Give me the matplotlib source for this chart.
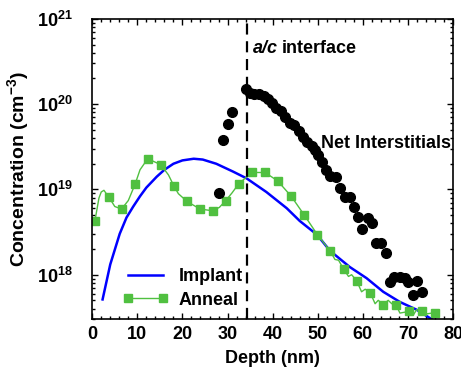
import matplotlib
matplotlib.use('Agg')
import matplotlib.pyplot as plt
from matplotlib.ticker import MultipleLocator, LogLocator, NullFormatter

plt.rcParams['font.family'] = 'Liberation Sans'
plt.rcParams['font.weight'] = 'bold'
plt.rcParams['mathtext.fontset'] = 'custom'
plt.rcParams['mathtext.rm'] = 'Liberation Sans:bold'
plt.rcParams['mathtext.bf'] = 'Liberation Sans:bold'
plt.rcParams['mathtext.it'] = 'Liberation Sans:bold:italic'

# Implant profile (blue line)
implant_depth = [2.3, 4.0, 6.1, 7.6, 9.1, 10.6, 12.0, 14.3, 16.0, 18.0, 20.0, 22.5, 24.5,
                 27.5, 31.2, 34.2, 38.6, 43.1, 46.0, 49.8, 52.7, 57.1, 60.8, 64.5, 68.2,
                 71.9, 74.9, 75.5]
implant_conc = [5.13e17, 1.32e18, 3.02e18, 4.68e18, 6.31e18, 8.32e18, 1.05e19, 1.41e19,
                1.70e19, 2.0e19, 2.19e19, 2.29e19, 2.24e19, 2.0e19, 1.62e19, 1.35e19,
                9.33e18, 6.03e18, 4.27e18, 2.95e18, 1.91e18, 1.23e18, 9.12e17, 6.31e17,
                4.79e17, 3.89e17, 3.09e17, 2.95e17]

# Anneal profile: squares and the finer line through them
anneal_depth = [0.6, 3.7, 6.5, 9.5, 12.3, 15.2, 18.1, 21.0, 23.9, 26.7, 29.6, 32.5, 35.4,
                38.3, 41.1, 44.1, 47.0, 49.9, 52.7, 55.7, 58.6, 61.6, 64.5, 67.3, 70.3,
                73.0, 76.0]
anneal_conc = [4.27e18, 8.13e18, 5.89e18, 1.15e19, 2.29e19, 1.95e19, 1.10e19, 7.24e18,
               5.89e18, 5.62e18, 7.41e18, 1.17e19, 1.58e19, 1.58e19, 1.26e19, 8.32e18,
               5.01e18, 2.95e18, 1.91e18, 1.17e18, 8.51e17, 6.17e17, 4.47e17, 4.47e17,
               3.72e17, 3.72e17, 3.59e17]

anneal_line_depth = [0.6, 1.5, 2.0, 2.6, 3.0, 3.7, 5.0, 6.5, 8.0, 9.5, 10.6, 12.3, 15.2,
                     16.9, 18.1, 19.1, 21.0, 23.9, 26.7, 28.2, 29.6, 31.0, 32.5, 35.4,
                     38.3, 41.1, 44.1, 47.0, 49.9, 52.7, 53.8, 54.6, 55.7, 56.8, 57.5,
                     58.6, 59.7, 60.5, 61.6, 62.7, 63.4, 64.5, 65.6, 66.4, 67.3, 68.2,
                     69.2, 70.3, 71.2, 71.9, 73.0, 74.0, 76.0]
anneal_line_conc = [4.27e18, 7.94e18, 9.33e18, 9.77e18, 9.12e18, 8.13e18, 6.31e18,
                    5.89e18, 7.41e18, 1.15e19, 1.70e19, 2.29e19, 1.95e19, 1.48e19,
                    1.10e19, 8.91e18, 7.24e18, 5.89e18, 5.62e18, 6.17e18, 7.41e18,
                    9.12e18, 1.17e19, 1.58e19, 1.58e19, 1.26e19, 8.32e18, 5.01e18,
                    2.95e18, 1.91e18, 1.51e18, 1.48e18, 1.17e18, 9.55e17, 1.0e18,
                    8.51e17, 6.31e17, 6.76e17, 6.17e17, 4.57e17, 5.01e17, 4.47e17,
                    5.01e17, 4.57e17, 4.47e17, 3.55e17, 3.63e17, 3.72e17, 3.39e17,
                    3.89e17, 3.72e17, 3.47e17, 3.59e17]

# Net interstitials (black dots)
net_depth = [28.1, 29.0, 30.1, 31.0, 34.0, 34.9, 35.9, 37.0, 38.0, 39.0, 39.9, 40.7, 41.8,
             42.8, 43.8, 44.8, 45.8, 46.8, 47.7, 48.7, 49.3, 50.1, 51.0, 51.9, 52.8, 54.0,
             55.0, 56.0, 57.1, 58.0, 58.9, 59.9, 61.2, 62.1, 62.9, 64.0, 65.1, 66.0, 66.9,
             68.2, 69.3, 70.1, 71.0, 71.9, 73.0]
net_conc = [9.12e18, 3.80e19, 5.89e19, 8.13e19, 1.51e20, 1.35e20, 1.33e20, 1.33e20,
            1.23e20, 1.14e20, 1.02e20, 8.91e19, 8.32e19, 7.08e19, 6.03e19, 5.62e19,
            4.90e19, 4.17e19, 3.63e19, 3.24e19, 2.88e19, 2.51e19, 2.09e19, 1.70e19,
            1.45e19, 1.41e19, 1.05e19, 8.13e18, 8.13e18, 6.17e18, 4.79e18, 3.47e18,
            4.57e18, 4.07e18, 2.37e18, 2.37e18, 1.82e18, 8.13e17, 9.33e17, 9.33e17,
            9.12e17, 8.13e17, 5.75e17, 8.51e17, 6.31e17]

interface_depth = 34.3

fig = plt.figure(figsize=(4.61, 3.77), dpi=100)
ax = fig.add_axes([0.200, 0.153, 0.783, 0.797])

green = '#50C040'
implant_line, = ax.plot(implant_depth, implant_conc, color='#0000FF', linewidth=1.8)
ax.plot(anneal_line_depth, anneal_line_conc, color=green, linewidth=1.0)
ax.plot(anneal_depth, anneal_conc, linestyle='none', marker='s', markersize=6,
        color=green)
ax.plot(net_depth, net_conc, linestyle='none', marker='o', markersize=7, color='black')
ax.axvline(interface_depth, color='black', linewidth=1.6, linestyle=(0, (5, 3)))

# legend handle for the anneal series (line with square markers)
anneal_handle, = ax.plot([], [], color=green, linewidth=1.0, marker='s', markersize=6)

ax.set_yscale('log')
ax.set_xlim(0, 80)
ax.set_ylim(3.0e17, 1e21)

ax.xaxis.set_major_locator(MultipleLocator(10))
ax.xaxis.set_minor_locator(MultipleLocator(2))
ax.yaxis.set_major_locator(LogLocator(base=10, numticks=10))
ax.yaxis.set_minor_locator(LogLocator(base=10, subs=range(2, 10), numticks=20))
ax.yaxis.set_minor_formatter(NullFormatter())

ax.tick_params(which='both', direction='in', top=True, right=True, width=1)
ax.tick_params(which='major', length=4.5)
ax.tick_params(which='minor', length=2.5)
ax.tick_params(axis='x', labelsize=13, pad=5)
ax.tick_params(axis='y', labelsize=13, pad=14)
for s in ax.spines.values():
    s.set_linewidth(1.2)

ax.set_xlabel('Depth (nm)', fontsize=13, fontweight='bold', labelpad=5)
ax.set_ylabel('Concentration (cm$^{-3}$)', fontsize=14, fontweight='bold', labelpad=4)

# "a/c" in italic, followed by "interface"
t1 = ax.text(35.6, 4.0e20, 'a/c', fontsize=13, fontweight='bold', fontstyle='italic',
             va='baseline', ha='left')
fig.canvas.draw()
bb = t1.get_window_extent()
x_end = ax.transData.inverted().transform((bb.x1 + 4, bb.y0))[0]
ax.text(x_end, 4.0e20, 'interface', fontsize=13, fontweight='bold',
        va='baseline', ha='left')

ax.text(50.7, 3.5e19, 'Net Interstitials', fontsize=13, fontweight='bold',
        va='center', ha='left')

ax.legend([implant_line, anneal_handle], ['Implant', 'Anneal'], loc='lower left',
          bbox_to_anchor=(0.06, 0.005), frameon=False, handlelength=2.5,
          handletextpad=0.6, labelspacing=0.35, borderpad=0, numpoints=2,
          prop={'weight': 'bold', 'size': 13})

fig.savefig('out.png', dpi=100)
